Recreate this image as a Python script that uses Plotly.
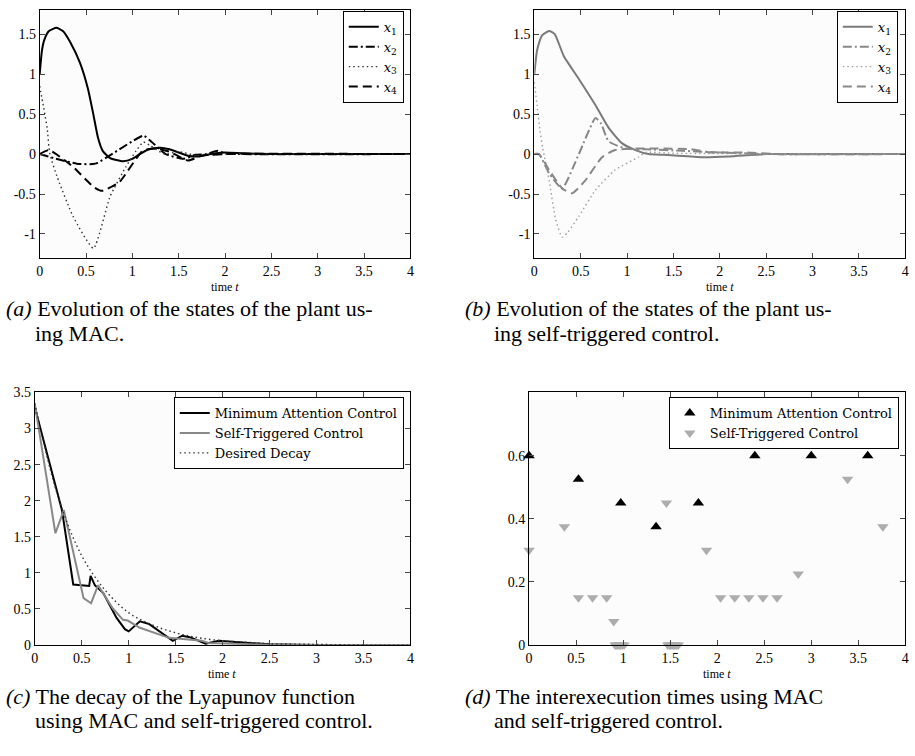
import plotly.graph_objects as go

W, H = 915, 756
FONT = "Liberation Serif"
LEG_FONT = "DejaVu Serif"

# ---------------- (a) states under minimum attention control ----------------
a_x1_t = [0, 0.025, 0.05, 0.1, 0.18, 0.25, 0.33, 0.435, 0.52, 0.58, 0.63, 0.68, 0.76, 0.9, 1.0, 1.08, 1.18, 1.3, 1.4, 1.5, 1.6, 1.7, 1.8, 1.9, 2.0, 2.2, 2.5, 3.0, 4.0]
a_x1_v = [1.0, 1.3, 1.43, 1.54, 1.58, 1.54, 1.4, 1.14, 0.82, 0.49, 0.2, 0.04, -0.05, -0.09, -0.06, 0.0, 0.06, 0.08, 0.06, 0.02, -0.02, -0.03, -0.01, 0.01, 0.02, 0.01, 0.0, 0.0, 0.0]
a_x2_t = [0, 0.15, 0.4, 0.6, 1.12, 1.2, 1.36, 1.55, 1.68, 1.8, 1.92, 2.0, 2.2, 4.0]
a_x2_v = [0, -0.05, -0.12, -0.12, 0.23, 0.16, 0.0, -0.06, -0.01, 0.0, 0.04, 0.01, 0.0, 0.0]
a_x3_t = [0, 0.04, 0.08, 0.11, 0.19, 0.36, 0.58, 0.76, 0.93, 1.04, 1.12, 1.2, 1.35, 1.5, 1.7, 2.0, 4.0]
a_x3_v = [0.85, 0.6, 0.33, 0.0, -0.29, -0.78, -1.18, -0.53, -0.16, 0.04, 0.15, 0.1, 0.0, 0.03, -0.02, 0.0, 0.0]
a_x4_t = [0, 0.1, 0.36, 0.58, 0.67, 0.86, 1.11, 1.25, 1.4, 1.6, 1.75, 2.0, 4.0]
a_x4_v = [0, 0.05, -0.16, -0.41, -0.46, -0.35, 0.04, 0.07, 0.03, -0.08, -0.02, 0.0, 0.0]

# ---------------- (b) states under self-triggered control ----------------
b_x1_t = [0, 0.03, 0.08, 0.16, 0.22, 0.32, 0.48, 0.66, 0.8, 0.94, 1.09, 1.23, 1.4, 1.55, 1.83, 2.1, 2.5, 3.0, 4.0]
b_x1_v = [1.0, 1.3, 1.48, 1.54, 1.5, 1.22, 0.94, 0.61, 0.33, 0.14, 0.05, 0.0, -0.01, -0.02, -0.04, -0.03, 0.0, 0.0, 0.0]
b_x2_t = [0, 0.05, 0.16, 0.3, 0.48, 0.66, 0.72, 0.8, 0.98, 1.2, 1.6, 2.0, 2.5, 4.0]
b_x2_v = [0, 0.0, -0.24, -0.43, 0.0, 0.45, 0.38, 0.16, 0.07, 0.06, 0.04, 0.02, 0.0, 0.0]
b_x3_t = [0, 0.03, 0.06, 0.09, 0.16, 0.23, 0.3, 0.36, 0.48, 0.66, 0.87, 1.12, 1.2, 1.5, 4.0]
b_x3_v = [0.9, 0.6, 0.3, 0.08, -0.33, -0.82, -1.04, -0.98, -0.78, -0.45, -0.2, -0.04, 0.02, 0.01, 0.0]
b_x4_t = [0, 0.05, 0.16, 0.3, 0.41, 0.55, 0.73, 0.87, 1.09, 1.3, 1.69, 1.9, 2.3, 2.6, 4.0]
b_x4_v = [0, 0.0, -0.2, -0.43, -0.49, -0.33, -0.04, 0.05, 0.07, 0.07, 0.06, 0.02, 0.02, 0.0, 0.0]

# ---------------- (c) Lyapunov function ----------------
c_mac_t = [0, 0.29, 0.41, 0.58, 0.595, 0.64, 0.73, 0.87, 0.96, 1.0, 1.12, 1.22, 1.47, 1.57, 1.65, 1.82, 1.96, 2.2, 2.5, 3.0, 4.0]
c_mac_v = [3.3, 1.87, 0.84, 0.82, 0.96, 0.83, 0.72, 0.38, 0.22, 0.19, 0.33, 0.29, 0.06, 0.13, 0.11, 0.02, 0.06, 0.04, 0.01, 0.0, 0.0]
c_stc_t = [0, 0.22, 0.31, 0.52, 0.6, 0.675, 0.83, 0.94, 0.99, 1.12, 1.43, 1.78, 1.85, 2.2, 2.6, 4.0]
c_stc_v = [3.35, 1.55, 1.87, 0.65, 0.58, 0.83, 0.51, 0.35, 0.34, 0.24, 0.1, 0.06, 0.03, 0.02, 0.0, 0.0]
c_des_t = [0, 0.25, 0.5, 0.75, 1.0, 1.25, 1.5, 1.75, 2.0, 2.25, 2.5, 3.0, 3.5, 4.0]
c_des_v = [3.35, 2.05, 1.24, 0.76, 0.45, 0.28, 0.17, 0.10, 0.06, 0.04, 0.02, 0.01, 0.0, 0.0]

# ---------------- (d) interexecution times ----------------
d_mac_t = [0, 0.525, 0.975, 1.35, 1.8, 2.4, 3.0, 3.6]
d_mac_v = [0.6, 0.525, 0.45, 0.375, 0.45, 0.6, 0.6, 0.6]
# zero-valued runs are the bursts of executions near t = 1 and t = 1.5
d_stc_t = [0, 0.375, 0.525, 0.675, 0.825, 0.9, 0.915, 0.93, 0.945, 0.96, 0.975, 0.99, 1.01,
           1.46, 1.475, 1.49, 1.505, 1.52, 1.535, 1.55, 1.565, 1.586,
           1.886, 2.036, 2.186, 2.336, 2.486, 2.636, 2.861, 3.386, 3.761]
d_stc_v = [0.3, 0.375, 0.15, 0.15, 0.15, 0.075, 0, 0, 0, 0, 0, 0, 0,
           0.45, 0, 0, 0, 0, 0, 0, 0, 0,
           0.3, 0.15, 0.15, 0.15, 0.15, 0.15, 0.225, 0.525, 0.375]

x_ticks = [0, 0.5, 1, 1.5, 2, 2.5, 3, 3.5, 4]
x_labels = ["0", "0.5", "1", "1.5", "2", "2.5", "3", "3.5", "4"]
ab_ticks = [-1, -0.5, 0, 0.5, 1, 1.5]
ab_labels = ["-1", "-0.5", "0", "0.5", "1", "1.5"]
c_ticks = [0, 0.5, 1, 1.5, 2, 2.5, 3, 3.5]
c_labels = ["0", "0.5", "1", "1.5", "2", "2.5", "3", "3.5"]
d_ticks = [0, 0.2, 0.4, 0.6]
d_labels = ["0", "0.2", "0.4", "0.6"]

state_names = ["<i>x</i><sub>1</sub>", "<i>x</i><sub>2</sub>",
               "<i>x</i><sub>3</sub>", "<i>x</i><sub>4</sub>"]


def px(x):
    return x / W


def py(y):
    return 1 - y / H


fig = go.Figure()

DASHES = ["solid", "9px,3px,2px,3px", "1.5px,3px", "9px,5px"]
WIDTHS = [2, 2, 1.4, 2]

a_cols = ["black", "black", "#333333", "black"]
a_sets = [(a_x1_t, a_x1_v), (a_x2_t, a_x2_v), (a_x3_t, a_x3_v), (a_x4_t, a_x4_v)]
for i, (t, v) in enumerate(a_sets):
    fig.add_trace(go.Scatter(x=t, y=v, mode="lines", name=state_names[i],
                             line=dict(color=a_cols[i], width=WIDTHS[i], dash=DASHES[i],
                                       shape="spline", smoothing=0.5),
                             xaxis="x", yaxis="y", legend="legend"))

b_cols = ["#7a7a7a", "#888888", "#a0a0a0", "#888888"]
b_sets = [(b_x1_t, b_x1_v), (b_x2_t, b_x2_v), (b_x3_t, b_x3_v), (b_x4_t, b_x4_v)]
for i, (t, v) in enumerate(b_sets):
    fig.add_trace(go.Scatter(x=t, y=v, mode="lines", name=state_names[i],
                             line=dict(color=b_cols[i], width=WIDTHS[i], dash=DASHES[i],
                                       shape="spline", smoothing=0.5),
                             xaxis="x2", yaxis="y2", legend="legend2"))

fig.add_trace(go.Scatter(x=c_mac_t, y=c_mac_v, mode="lines", name="Minimum Attention Control",
                         line=dict(color="black", width=2), xaxis="x3", yaxis="y3", legend="legend3"))
fig.add_trace(go.Scatter(x=c_stc_t, y=c_stc_v, mode="lines", name="Self-Triggered Control",
                         line=dict(color="#888888", width=2), xaxis="x3", yaxis="y3", legend="legend3"))
fig.add_trace(go.Scatter(x=c_des_t, y=c_des_v, mode="lines", name="Desired Decay",
                         line=dict(color="#333333", width=1.4, dash="1.5px,3px", shape="spline"),
                         xaxis="x3", yaxis="y3", legend="legend3"))

fig.add_trace(go.Scatter(x=d_mac_t, y=d_mac_v, mode="markers", name="Minimum Attention Control",
                         marker=dict(symbol="triangle-up", size=10, color="black"),
                         cliponaxis=False, xaxis="x4", yaxis="y4", legend="legend4"))
fig.add_trace(go.Scatter(x=d_stc_t, y=d_stc_v, mode="markers", name="Self-Triggered Control",
                         marker=dict(symbol="triangle-down", size=10, color="#adadad"),
                         cliponaxis=False, xaxis="x4", yaxis="y4", legend="legend4"))

tick_font = dict(family=FONT, size=14, color="black")


def xaxis(dom, anchor):
    return dict(domain=dom, anchor=anchor, range=[0, 4], tickmode="array",
                tickvals=x_ticks, ticktext=x_labels, ticks="inside", ticklen=5,
                showline=True, linecolor="black", linewidth=1, mirror="allticks",
                showgrid=False, zeroline=False, tickfont=tick_font)


def yaxis(dom, anchor, rng, tv, tt):
    return dict(domain=dom, anchor=anchor, range=rng, tickmode="array",
                tickvals=tv, ticktext=tt, ticks="inside", ticklen=5,
                showline=True, linecolor="black", linewidth=1, mirror="allticks",
                showgrid=False, zeroline=False, tickfont=tick_font)


top_dom = [py(256), py(3.3)]
bot_dom = [py(651), py(393.3)]

legend_base = dict(bgcolor="white", bordercolor="black", borderwidth=1,
                   font=dict(family=LEG_FONT, size=13, color="black"),
                   xanchor="right", yanchor="top", tracegroupgap=0)

fig.update_layout(
    width=W, height=H, margin=dict(l=0, r=0, t=0, b=0),
    paper_bgcolor="white", plot_bgcolor="#fcfcfc",
    xaxis=xaxis([px(36), px(410)], "y"),
    yaxis=yaxis(top_dom, "x", [-1.3, 1.8], ab_ticks, ab_labels),
    xaxis2=xaxis([px(535), px(909.3)], "y2"),
    yaxis2=yaxis(top_dom, "x2", [-1.3, 1.8], ab_ticks, ab_labels),
    xaxis3=xaxis([px(31), px(410)], "y3"),
    yaxis3=yaxis(bot_dom, "x3", [0, 3.5], c_ticks, c_labels),
    xaxis4=xaxis([px(529.7), px(909.3)], "y4"),
    yaxis4=yaxis(bot_dom, "x4", [0, 0.8], d_ticks, d_labels),
    legend=dict(legend_base, x=px(403.3), y=py(4)),
    legend2=dict(legend_base, x=px(901.7), y=py(4)),
    legend3=dict(legend_base, x=px(403.3), y=py(398)),
    legend4=dict(legend_base, x=px(902.7), y=py(398)),
    showlegend=True,
)

# axis labels and sub-captions
for cx, ty in [(223, 286), (722, 286), (220, 681), (719, 681)]:
    fig.add_annotation(x=px(cx), y=py(ty), xref="paper", yref="paper", showarrow=False,
                       text="time <i>t</i>", font=dict(family=FONT, size=12, color="black"),
                       xanchor="center", yanchor="middle")

CAP = dict(family=FONT, size=22, color="black")
captions = [
    (0, 308, 333, "<i>(a)</i> Evolution of the states of the plant us-", "ing MAC."),
    (463, 308, 333, "<i>(b)</i> Evolution of the states of the plant us-", "ing self-triggered control."),
    (0, 703, 728, "<i>(c)</i> The decay of the Lyapunov function", "using MAC and self-triggered control."),
    (463, 703, 728, "<i>(d)</i> The interexecution times using MAC", "and self-triggered control."),
]
for x0, y1, y2, l1, l2 in captions:
    fig.add_annotation(x=px(x0), y=py(y1), xref="paper", yref="paper", showarrow=False,
                       text=l1, font=CAP, xanchor="left", yanchor="middle")
    fig.add_annotation(x=px(x0 + 29), y=py(y2), xref="paper", yref="paper", showarrow=False,
                       text=l2, font=CAP, xanchor="left", yanchor="middle")

fig.write_html("out.html")
